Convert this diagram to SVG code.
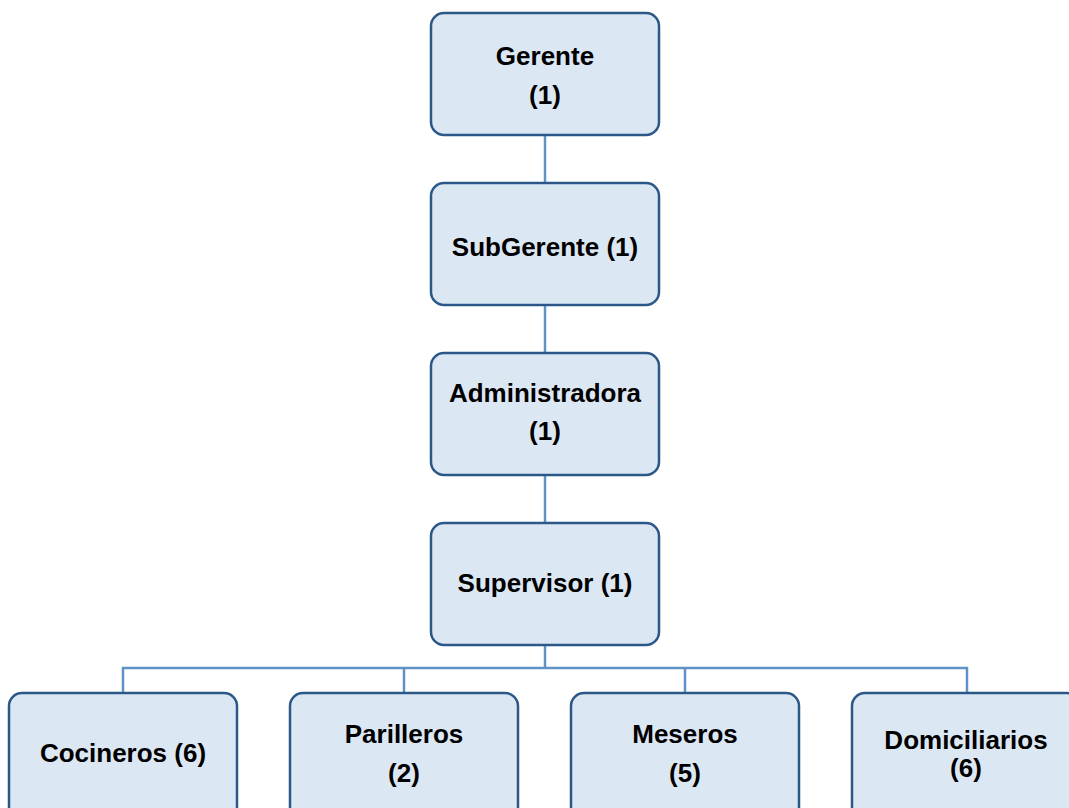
<svg xmlns="http://www.w3.org/2000/svg" width="1069" height="808" viewBox="0 0 1069 808">
  <style>
    .box { fill: #dce7f4; stroke: #2b5887; stroke-width: 2.5; }
    .lbl { font-family: "Liberation Sans", Arial, sans-serif; font-weight: bold; font-size: 26px; fill: #000; text-anchor: middle; }
    .link { fill: none; stroke: #5f92c6; stroke-width: 2.5; }
  </style>
  <rect width="1069" height="808" fill="#ffffff"/>

  <!-- connectors -->
  <g id="connectors">
    <line class="link" x1="545" y1="135" x2="545" y2="183"/>
    <line class="link" x1="545" y1="305" x2="545" y2="353"/>
    <line class="link" x1="545" y1="475" x2="545" y2="523"/>
    <line class="link" x1="545" y1="645" x2="545" y2="668"/>
    <polyline class="link" points="123,693 123,668 967,668 967,693"/>
    <line class="link" x1="404" y1="668" x2="404" y2="693"/>
    <line class="link" x1="685" y1="668" x2="685" y2="693"/>
  </g>

  <!-- nodes -->
  <g id="gerente">
    <rect class="box" x="431" y="13" width="228" height="122" rx="13"/>
    <text class="lbl" x="545" y="65">Gerente</text>
    <text class="lbl" x="545" y="104">(1)</text>
  </g>
  <g id="subgerente">
    <rect class="box" x="431" y="183" width="228" height="122" rx="13"/>
    <text class="lbl" x="545" y="256">SubGerente (1)</text>
  </g>
  <g id="administradora">
    <rect class="box" x="431" y="353" width="228" height="122" rx="13"/>
    <text class="lbl" x="545" y="402">Administradora</text>
    <text class="lbl" x="545" y="440">(1)</text>
  </g>
  <g id="supervisor">
    <rect class="box" x="431" y="523" width="228" height="122" rx="13"/>
    <text class="lbl" x="545" y="592">Supervisor (1)</text>
  </g>
  <g id="cocineros">
    <rect class="box" x="9" y="693" width="228" height="130" rx="13"/>
    <text class="lbl" x="123" y="762">Cocineros (6)</text>
  </g>
  <g id="parilleros">
    <rect class="box" x="290" y="693" width="228" height="130" rx="13"/>
    <text class="lbl" x="404" y="743">Parilleros</text>
    <text class="lbl" x="404" y="782">(2)</text>
  </g>
  <g id="meseros">
    <rect class="box" x="571" y="693" width="228" height="130" rx="13"/>
    <text class="lbl" x="685" y="743">Meseros</text>
    <text class="lbl" x="685" y="782">(5)</text>
  </g>
  <g id="domiciliarios">
    <rect class="box" x="852" y="693" width="228" height="130" rx="13"/>
    <text class="lbl" x="966" y="749">Domiciliarios</text>
    <text class="lbl" x="966" y="777">(6)</text>
  </g>
</svg>
